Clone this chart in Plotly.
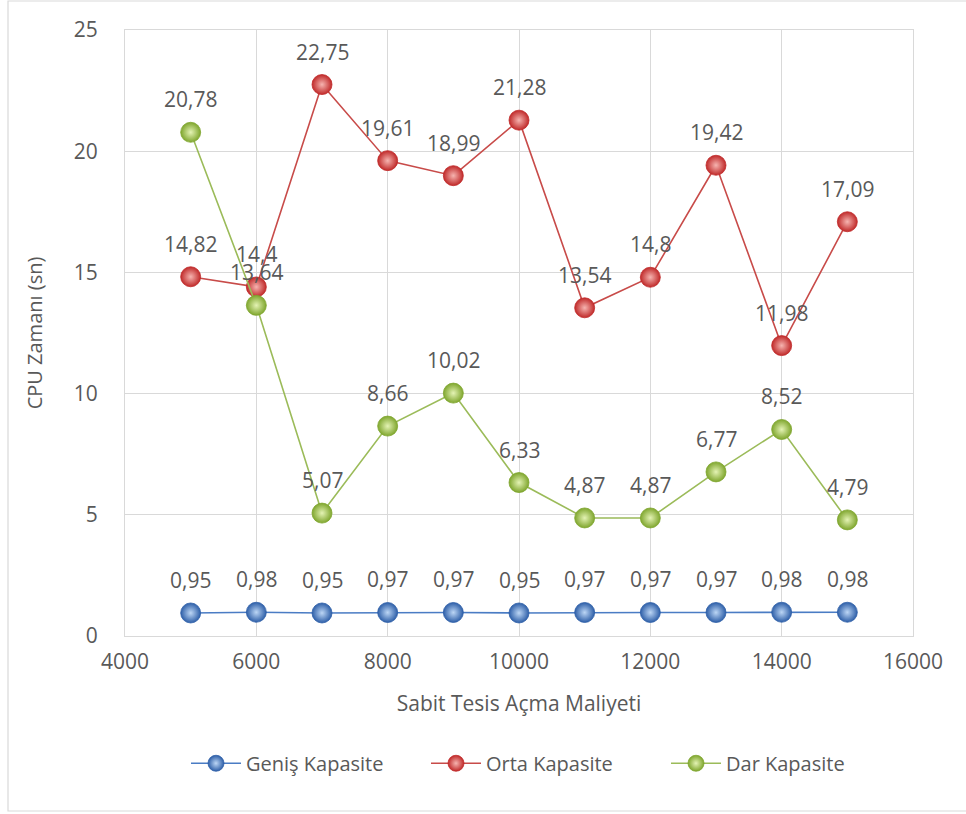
import plotly.graph_objects as go

# Fixed facility opening cost (x) and CPU time per capacity scenario
maliyet = [5000, 6000, 7000, 8000, 9000, 10000, 11000, 12000, 13000, 14000, 15000]
genis = [0.95, 0.98, 0.95, 0.97, 0.97, 0.95, 0.97, 0.97, 0.97, 0.98, 0.98]
orta = [14.82, 14.4, 22.75, 19.61, 18.99, 21.28, 13.54, 14.8, 19.42, 11.98, 17.09]
dar = [20.78, 13.64, 5.07, 8.66, 10.02, 6.33, 4.87, 4.87, 6.77, 8.52, 4.79]

x_ticks = [4000, 6000, 8000, 10000, 12000, 14000, 16000]
y_ticks = [0, 5, 10, 15, 20, 25]

FONT = "'Open Sans', sans-serif"
TXT = "#595959"
GRID = "#d9d9d9"

series = [
    ("Geniş Kapasite", genis, "#4a7cc4", "#2e5fa8", "#bcd6f5"),
    ("Orta Kapasite", orta, "#c84b49", "#c02a2a", "#f6b4b0"),
    ("Dar Kapasite", dar, "#9bbb59", "#7fa62e", "#e4f3b4"),
]


def fmt(v):
    s = f"{v:g}"
    return s.replace(".", ",")


fig = go.Figure()
for name, vals, line_c, mark_c, hi_c in series:
    fig.add_trace(go.Scatter(
        x=maliyet, y=vals, name=name, mode="lines+markers",
        line=dict(color=line_c, width=1.6),
        marker=dict(size=20, color=mark_c,
                    gradient=dict(type="radial", color=hi_c),
                    line=dict(color=mark_c, width=0.8)),
    ))

# value labels above every point
for name, vals, *_ in series:
    for xv, yv in zip(maliyet, vals):
        fig.add_annotation(x=xv, y=yv, text=fmt(yv), showarrow=False,
                           yshift=33, font=dict(family=FONT, size=21, color=TXT))

# outer chart frame
fig.add_shape(type="rect", xref="paper", yref="paper",
              x0=-117 / 788, x1=(975 - 125) / 788,
              y0=-(811 - 636) / 606, y1=(636 - 1) / 606,
              line=dict(color="#d9d9d9", width=1.2), fillcolor="rgba(0,0,0,0)")

fig.update_layout(
    width=966, height=814,
    margin=dict(l=125, r=53, t=30, b=178),
    paper_bgcolor="white", plot_bgcolor="white",
    font=dict(family=FONT, color=TXT, size=21),
    showlegend=True,
    legend=dict(orientation="h", x=(186 - 125) / 788, xanchor="left", y=-0.21, yanchor="middle",
                font=dict(family=FONT, size=20, color=TXT), itemwidth=50,
                entrywidth=175, entrywidthmode="pixels",
                traceorder="normal"),
    xaxis=dict(range=[4000, 16000], tickvals=x_ticks, ticktext=[str(t) for t in x_ticks],
               showgrid=True, gridcolor=GRID, gridwidth=1, zeroline=False,
               showline=True, linecolor=GRID, mirror=True, ticks="",
               tickfont=dict(size=21, color=TXT), ticklabelstandoff=7,
               title=dict(text="Sabit Tesis Açma Maliyeti", font=dict(size=21, color=TXT),
                          standoff=22)),
    yaxis=dict(range=[0, 25], tickvals=y_ticks, ticktext=[str(t) for t in y_ticks],
               showgrid=True, gridcolor=GRID, gridwidth=1, zeroline=False,
               showline=True, linecolor=GRID, mirror=True, ticks="",
               tickfont=dict(size=21, color=TXT), ticklabelstandoff=22,
               title=dict(text="CPU Zamanı (sn)", font=dict(size=20, color=TXT),
                          standoff=25)),
)

fig.write_html("out.html")
